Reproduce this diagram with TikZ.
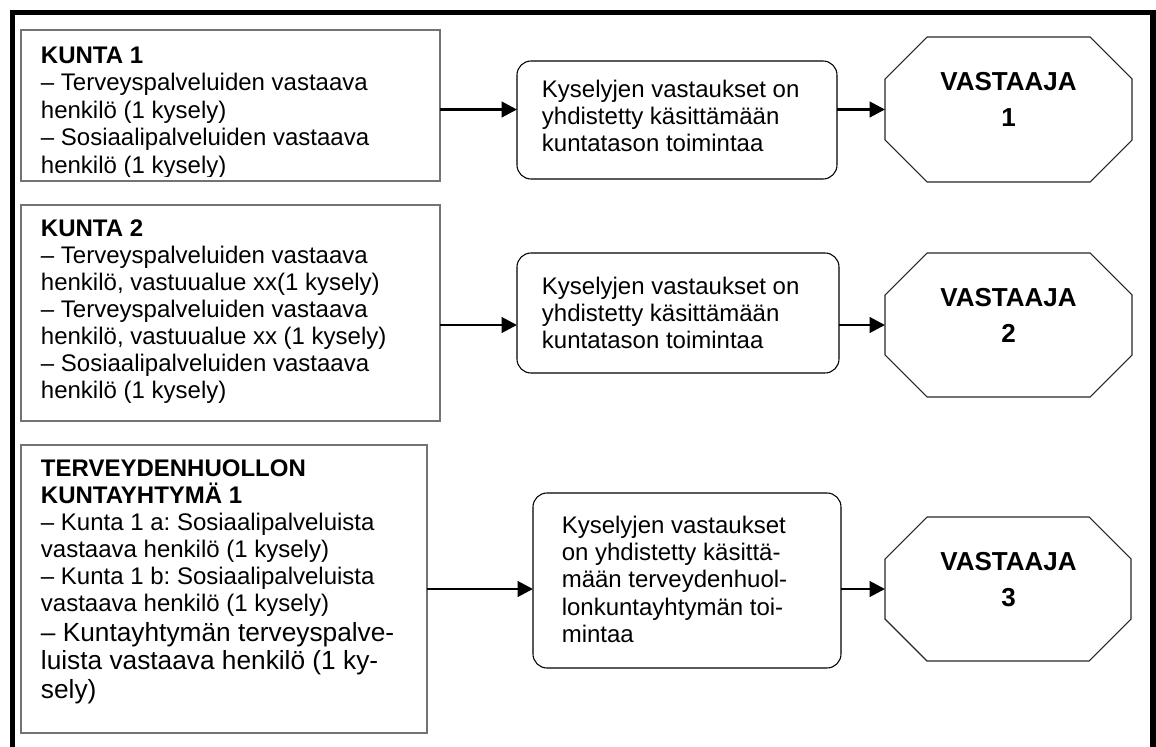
\documentclass[tikz,border=0pt]{standalone}
\usepackage{fontspec}
\setmainfont{Liberation Sans}
\usetikzlibrary{fit,arrows.meta,calc}
\frenchspacing
\begin{document}
\begin{tikzpicture}[x=0.75pt,y=-0.75pt,
  box/.style={draw=black!55, line width=0.8pt, inner sep=0pt, outer sep=0pt},
  rbox/.style={draw=black, line width=0.8pt, rounded corners=10.5pt, inner sep=0pt, outer sep=0pt},
  oct/.style={inner sep=0pt, outer sep=0pt},
  octline/.style={draw=black!85, line width=0.8pt, line join=miter},
  txt/.style={anchor=base west, inner sep=0pt, font=\fontsize{18}{20.25}\selectfont},
  btxt/.style={anchor=base, inner sep=0pt, font=\fontsize{19.5}{27}\selectfont\bfseries},
  arr/.style={line width=2.2pt, -{Triangle[length=11.5pt,width=11.5pt]}},
  frame/.style={line width=4pt, line join=miter}
]
\useasboundingbox (0,0) rectangle (1156,746);
\fill[white] (0,0) rectangle (1156,746);
\draw[frame] (12.5,760) -- (12.5,12.3) -- (1153,12.3) -- (1153,760);

% left boxes
\node[box, fit={(21,30) (440,181)}] (k1) {};
\node[box, fit={(21,205) (440,421)}] (k2) {};
\node[box, fit={(21,445) (427,733)}] (k3) {};

% rounded boxes
\node[rbox, fit={(517,61) (837,179)}] (r1) {};
\node[rbox, fit={(517,253) (839,373)}] (r2) {};
\node[rbox, fit={(533,493) (841,668)}] (r3) {};

% octagons
\node[oct, fit={(885,37) (1132,182)}] (o1) {};
\node[oct, fit={(885,253) (1132,397)}] (o2) {};
\node[oct, fit={(885,517) (1131,661)}] (o3) {};
\foreach \o in {o1,o2,o3}{
  \draw[octline] ($(\o.north west)+(42,0)$) -- ($(\o.north east)+(-42,0)$)
    -- ($(\o.north east)+(0,42)$) -- ($(\o.south east)+(0,-42)$)
    -- ($(\o.south east)+(-42,0)$) -- ($(\o.south west)+(42,0)$)
    -- ($(\o.south west)+(0,-42)$) -- ($(\o.north west)+(0,42)$) -- cycle;
}

% texts of left boxes
\begin{scope}
\clip (k1.north west) rectangle ($(k1.south east)+(0,-5)$);
\node[txt, font=\fontsize{18}{20.6}\selectfont] (k1t) at (40.7,63.3) {\begin{tabular}[t]{@{}l@{}}\textbf{KUNTA 1}\\– Terveyspalveluiden vastaava\\henkilö (1 kysely)\\– Sosiaalipalveluiden vastaava\\henkilö (1 kysely)\end{tabular}};
\end{scope}
\node[txt] (k2t) at (40.7,236) {\begin{tabular}[t]{@{}l@{}}\textbf{KUNTA 2}\\– Terveyspalveluiden vastaava\\henkilö, vastuualue xx(1 kysely)\\– Terveyspalveluiden vastaava\\henkilö, vastuualue xx (1 kysely)\\– Sosiaalipalveluiden vastaava\\henkilö (1 kysely)\end{tabular}};
\node[txt] (k3t) at (40.7,476.7) {\begin{tabular}[t]{@{}l@{}}\textbf{TERVEYDENHUOLLON}\\\smash{\textbf{KUNTAYHTYMÄ 1}}\\– Kunta 1 a: Sosiaalipalveluista\\vastaava henkilö (1 kysely)\\– Kunta 1 b: Sosiaalipalveluista\\vastaava henkilö (1 kysely)\end{tabular}};
\node[txt, font=\fontsize{19.7}{21.2}\selectfont] (k3u) at (40.7,641.7) {\begin{tabular}[t]{@{}l@{}}– Kuntayhtymän terveyspalve-\\luista vastaava henkilö (1 ky-\\sely)\end{tabular}};

% texts of rounded boxes
\node[txt] (r1t) at (541.7,97.5) {\begin{tabular}[t]{@{}l@{}}Kyselyjen vastaukset on\\yhdistetty käsittämään\\kuntatason toimintaa\end{tabular}};
\node[txt] (r2t) at (541.7,294.5) {\begin{tabular}[t]{@{}l@{}}Kyselyjen vastaukset on\\yhdistetty käsittämään\\kuntatason toimintaa\end{tabular}};
\node[txt, font=\fontsize{18}{20.5}\selectfont] (r3t) at (561.5,533.3) {\begin{tabular}[t]{@{}l@{}}Kyselyjen vastaukset\\on yhdistetty käsittä-\\mään terveydenhuol-\\lonkuntayhtymän toi-\\mintaa\end{tabular}};

% texts of octagons
\node[btxt] (o1t) at (1008.5,90) {\begin{tabular}[t]{@{}c@{}}VASTAAJA\\1\end{tabular}};
\node[btxt] (o2t) at (1008.5,306.7) {\begin{tabular}[t]{@{}c@{}}VASTAAJA\\2\end{tabular}};
\node[btxt] (o3t) at (1008.5,570) {\begin{tabular}[t]{@{}c@{}}VASTAAJA\\3\end{tabular}};

% connectors
\draw[arr] (k1.east |- o1) -- (r1.west |- o1);
\draw[arr] (r1.east |- o1) -- (o1.west);
\draw[arr] (k2.east |- o2) -- (r2.west |- o2);
\draw[arr] (r2.east |- o2) -- (o2.west);
\draw[arr] (k3.east |- o3) -- (r3.west |- o3);
\draw[arr] (r3.east |- o3) -- (o3.west);
\end{tikzpicture}
\end{document}
